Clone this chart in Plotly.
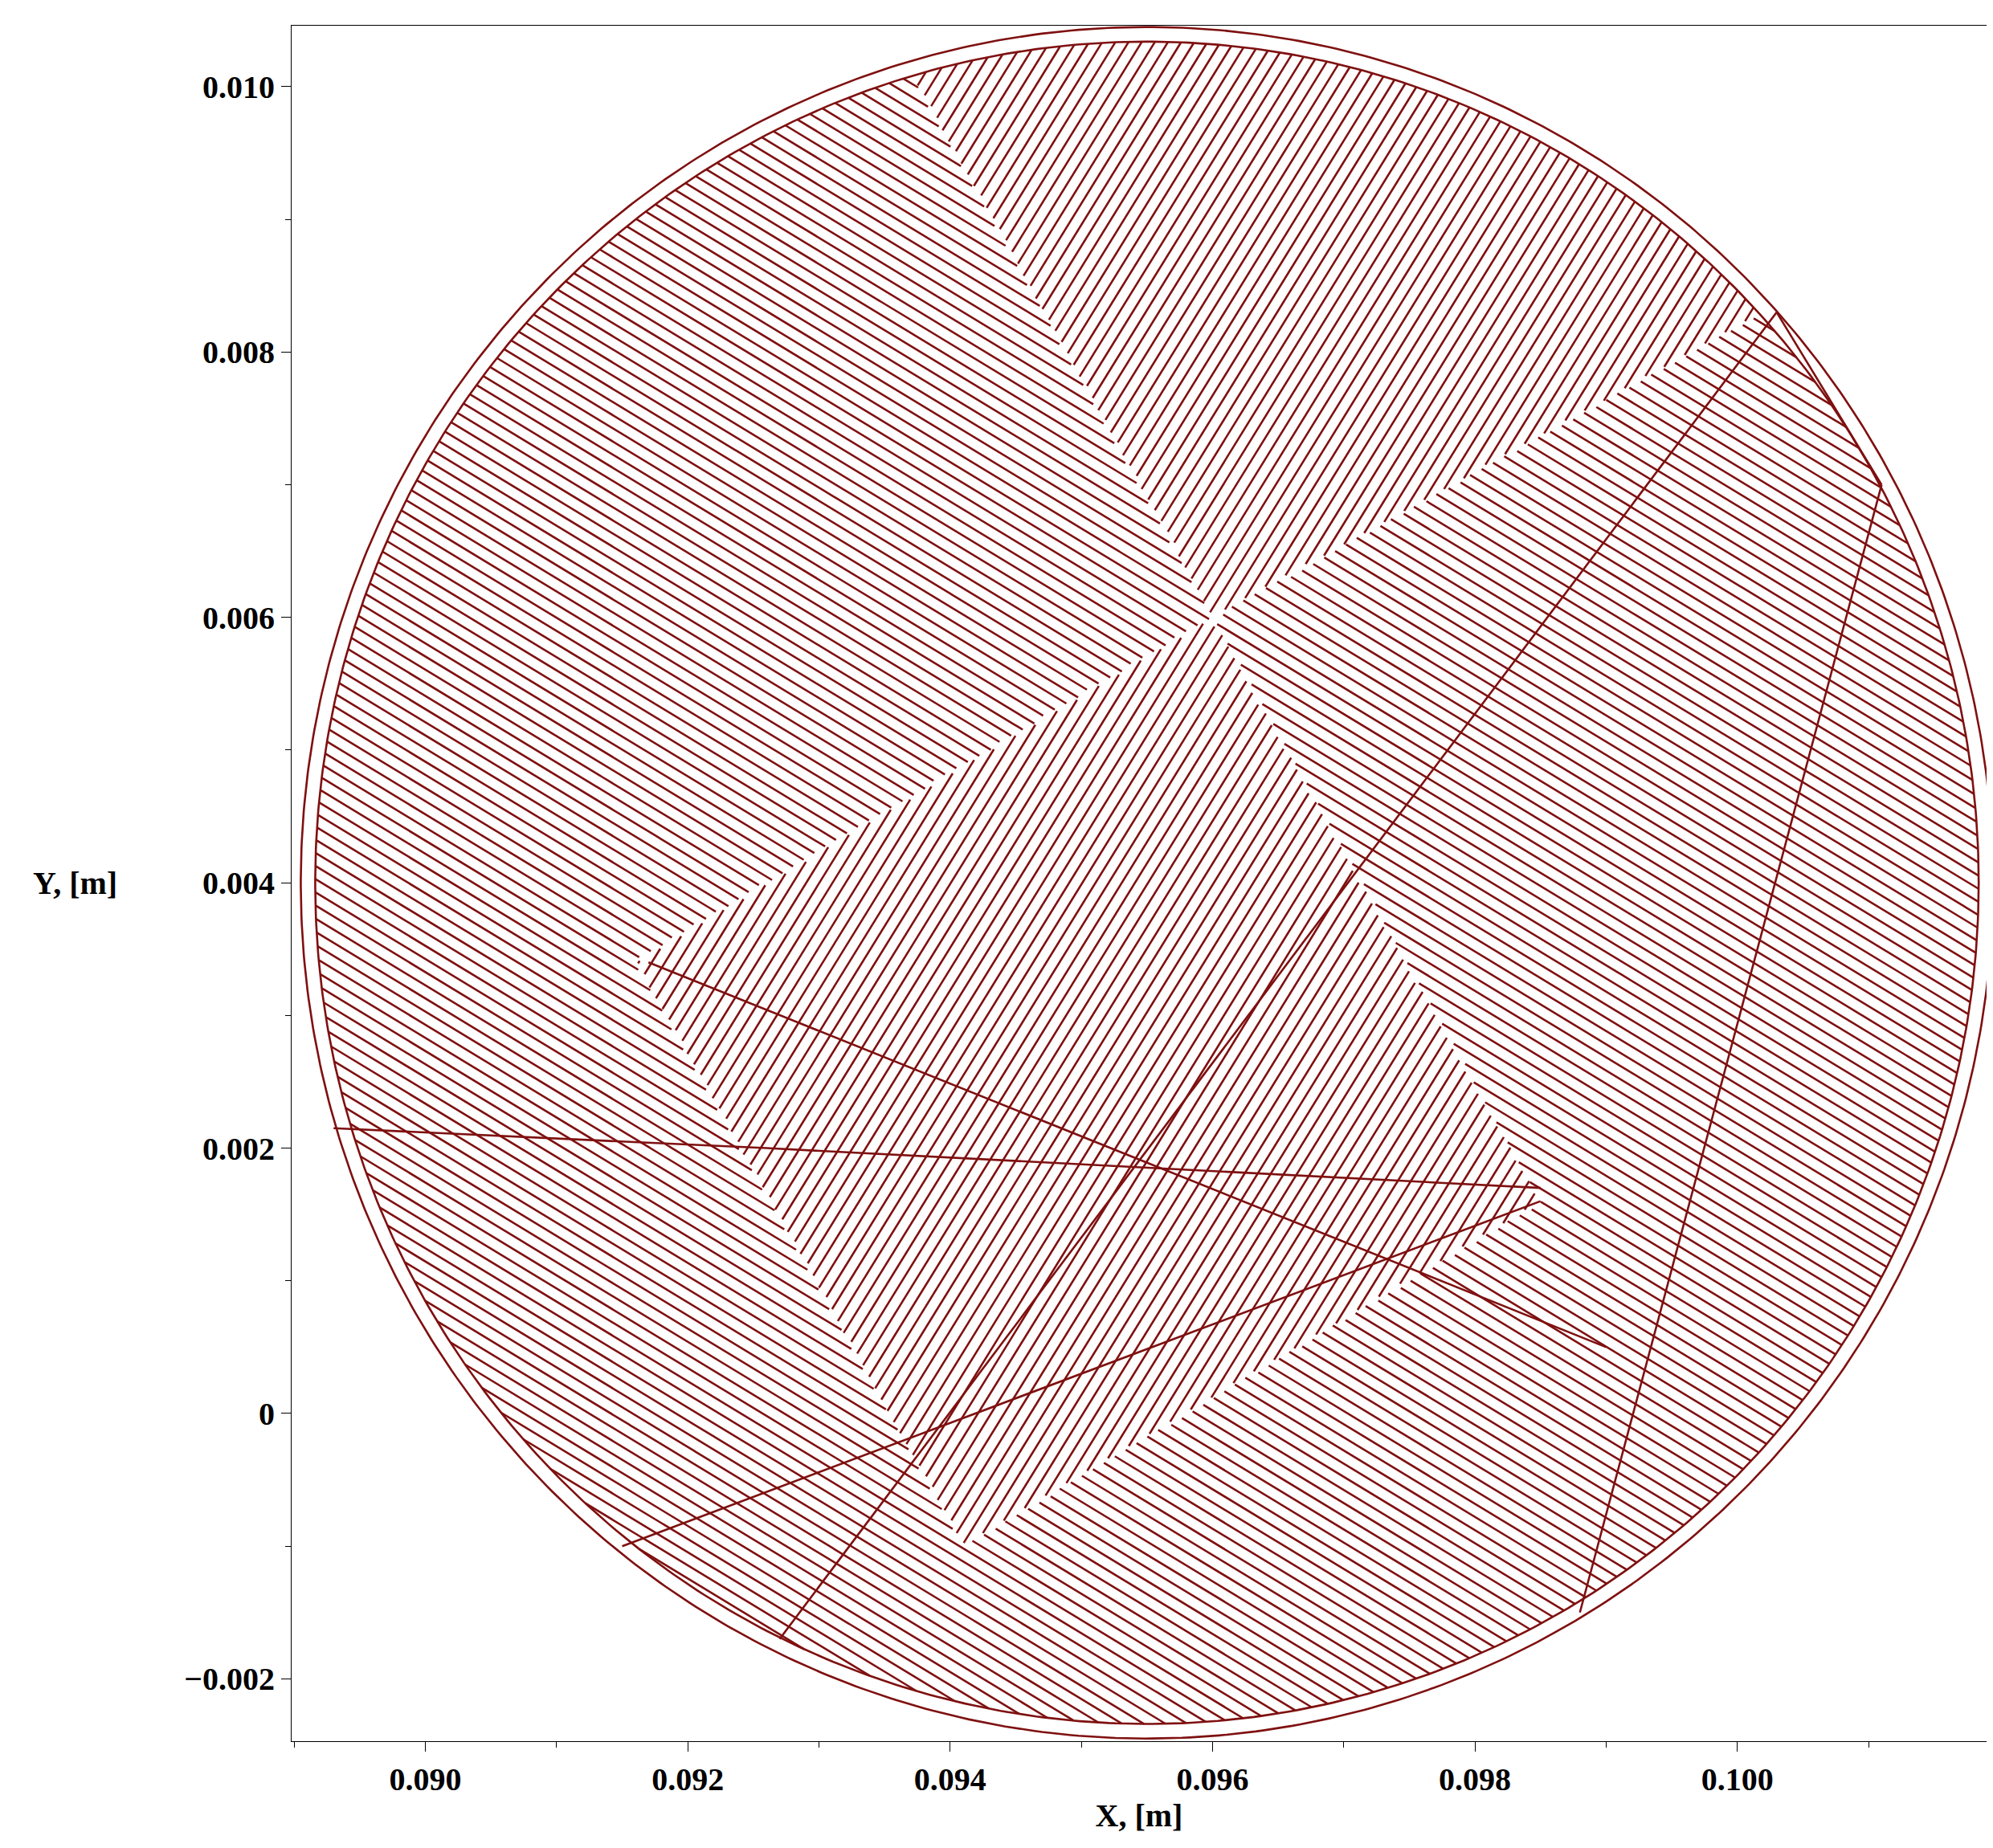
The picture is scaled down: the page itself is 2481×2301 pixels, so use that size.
import numpy as np
import plotly.graph_objects as go

# circle geometry
center = [0.0955, 0.0040]
radii = [0.00645, 0.00634]
cross_pt = [0.0960, 0.0060]
# corners of the two "/"-hatched patches (from the crossing point)
top_corners = [[0.0937, 0.0101], [0.1002, 0.0083]]
bottom_corners = [[0.0916, 0.0034], [0.0985, 0.0016]]
family_slopes = [1.6, -0.6]         # "/" inside patches, "\" elsewhere
spacing = 0.000085
stray_x = [[0.0893, 0.0926, 0.0985], [0.0917, 0.0990], [0.0915, 0.0985],
           [0.0927, 0.1003], [0.0988, 0.1011], [0.1003, 0.1011]]
stray_y = [[0.00215, 0.0020, 0.0017], [0.0034, 0.0005], [-0.0010, 0.0016],
           [-0.0017, 0.0083], [-0.0015, 0.0070], [0.0083, 0.0070]]

cx, cy = center
R = radii[1]
C = np.array(cross_pt)

def in_patch(x, y, corners):
    a = np.array(corners[0]) - C
    b = np.array(corners[1]) - C
    M = np.linalg.inv(np.array([a, b]).T)
    u = M[0, 0] * (x - C[0]) + M[0, 1] * (y - C[1])
    v = M[1, 0] * (x - C[0]) + M[1, 1] * (y - C[1])
    return (u >= 0) & (u <= 1) & (v >= 0) & (v <= 1)

def region(x, y):
    inside = in_patch(x, y, top_corners) | in_patch(x, y, bottom_corners)
    return np.where(inside, 0, 1)

xs, ys = [], []
for fi, m in enumerate(family_slopes):
    d = np.array([1.0, m]); d /= np.hypot(*d)
    nrm = np.array([-d[1], d[0]])
    for off in np.arange(-R + spacing / 2, R, spacing):
        half = np.sqrt(max(R**2 - off**2, 0))
        t = np.linspace(-half, half, 500)
        px = cx + nrm[0] * off + d[0] * t
        py = cy + nrm[1] * off + d[1] * t
        mask = region(px, py) == fi
        seg_x, seg_y = [], []
        for a, b, k in zip(px, py, mask):
            if k:
                seg_x.append(a); seg_y.append(b)
            elif seg_x:
                xs += seg_x + [None]; ys += seg_y + [None]; seg_x, seg_y = [], []
        if seg_x:
            xs += seg_x + [None]; ys += seg_y + [None]

for sx, sy in zip(stray_x, stray_y):
    xs += sx + [None]; ys += sy + [None]

th = np.linspace(0, 2 * np.pi, 720)
for r in radii:
    xs += list(cx + r * np.cos(th)) + [None]
    ys += list(cy + r * np.sin(th)) + [None]

col = "#7f1010"
fig = go.Figure(go.Scatter(x=xs, y=ys, mode="lines", line=dict(color=col, width=2.6),
                           connectgaps=False, hoverinfo="skip"))
font = dict(family="Liberation Serif", size=40, color="black")
axis = dict(showgrid=False, zeroline=False, showline=True, linecolor="black", mirror=True,
            ticks="outside", ticklen=12, tickcolor="black", tickfont=font)
fig.update_layout(
    width=2481, height=2301, plot_bgcolor="white", paper_bgcolor="white",
    margin=dict(l=355, r=16, t=24, b=141), showlegend=False,
    font=dict(family="Liberation Serif", size=40, color="black"),
    xaxis=dict(axis, range=[0.08898, 0.10190], tickvals=[0.090, 0.092, 0.094, 0.096, 0.098, 0.100],
               ticktext=["<b>0.090</b>", "<b>0.092</b>", "<b>0.094</b>", "<b>0.096</b>", "<b>0.098</b>", "<b>0.100</b>"],
               minor=dict(ticks="outside", ticklen=7, tickcolor="black", dtick=0.001),
               title=dict(text="<b>X, [m]</b>", font=font, standoff=5)),
    yaxis=dict(axis, range=[-0.00247, 0.01046], tickvals=[-0.002, 0, 0.002, 0.004, 0.006, 0.008, 0.010],
               ticktext=["<b>−0.002</b>", "<b>0</b>", "<b>0.002</b>", "<b>0.004</b>", "<b>0.006</b>", "<b>0.008</b>", "<b>0.010</b>"],
               minor=dict(ticks="outside", ticklen=7, tickcolor="black", dtick=0.001)),
    annotations=[dict(text="<b>Y, [m]</b>", x=0.0, xref="paper", xanchor="right", xshift=-215,
                      y=0.004, yref="y", showarrow=False, font=font)],
)
fig.write_html("out.html")
